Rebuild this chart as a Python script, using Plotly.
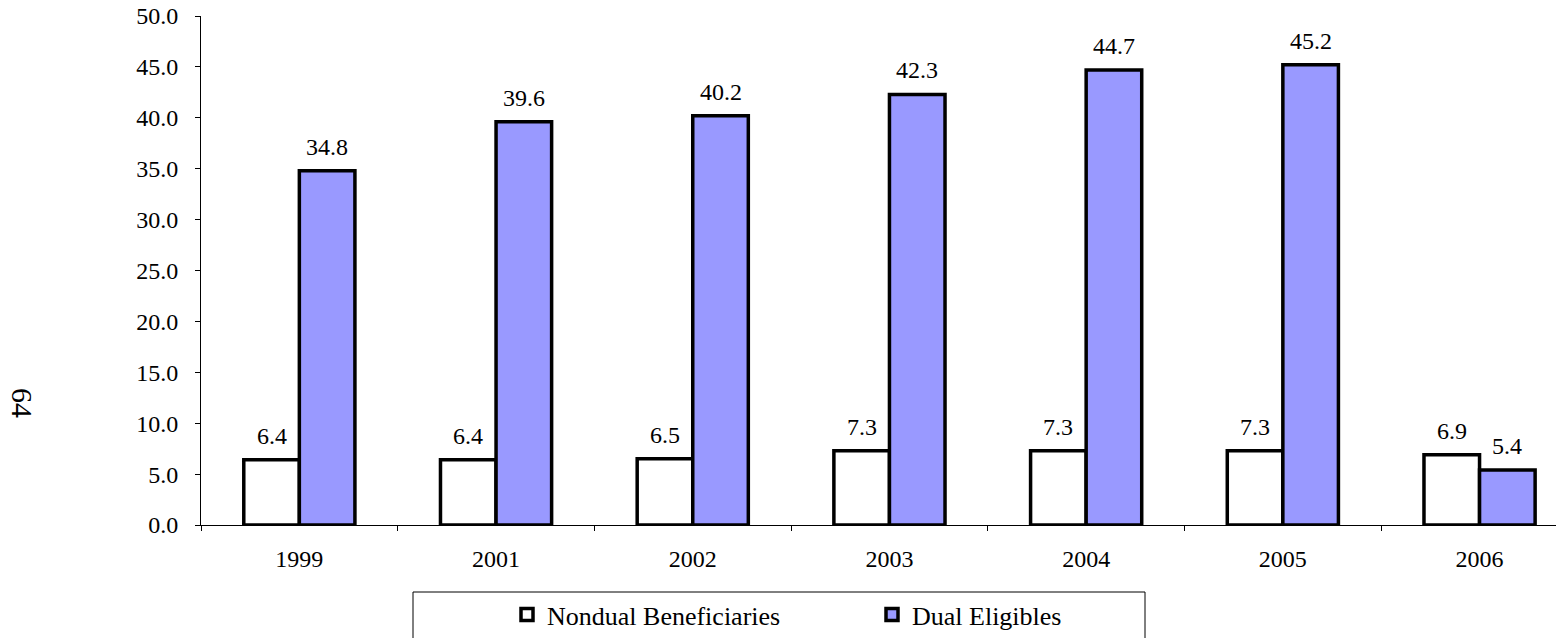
import plotly.graph_objects as go

years = ["1999", "2001", "2002", "2003", "2004", "2005", "2006"]
nondual = [6.4, 6.4, 6.5, 7.3, 7.3, 7.3, 6.9]
dual = [34.8, 39.6, 40.2, 42.3, 44.7, 45.2, 5.4]
series_names = ["Nondual Beneficiaries", "Dual Eligibles"]
y_ticks = [0, 5, 10, 15, 20, 25, 30, 35, 40, 45, 50]

FONT = "Liberation Serif"
# the page body adds an 8px margin; size the figure to fill the rest
OFF = 8
W, H = 1564 - OFF, 638 - OFF
L, R, T = 201 - OFF, 0, 16 - OFF
B = H - (525 - OFF)
plot_w = W - L - R
plot_h = H - T - B


def px_x(page_x):
    return (page_x - OFF - L) / plot_w


def px_y(page_y):
    return (H - B - (page_y - OFF)) / plot_h


fig = go.Figure()
fig.add_trace(go.Bar(
    x=years, y=nondual, name=series_names[0],
    marker=dict(color="white", line=dict(color="black", width=3.5)),
))
fig.add_trace(go.Bar(
    x=years, y=dual, name=series_names[1],
    marker=dict(color="#9999FF", line=dict(color="black", width=3.5)),
))

cat_w = 196.7
half = cat_w * 0.565 / 4
annotations = []
for i, yr in enumerate(years):
    for vals, sh in ((nondual, -half), (dual, half)):
        annotations.append(dict(
            x=i, y=vals[i], xref="x", yref="y", text=f"{vals[i]:.1f}",
            showarrow=False, xshift=sh, yanchor="middle", yshift=24,
            font=dict(family=FONT, size=24, color="black"),
        ))
annotations.append(dict(
    x=px_x(23), y=px_y(403), xref="paper", yref="paper",
    text="64", showarrow=False, textangle=90, xanchor="center", yanchor="middle",
    font=dict(family=FONT, size=30, color="black"),
))

fig.update_layout(
    width=W, height=H,
    margin=dict(l=L, r=R, t=T, b=B, pad=0, autoexpand=False),
    paper_bgcolor="white", plot_bgcolor="white",
    barmode="group", bargap=0.435, bargroupgap=0,
    font=dict(family=FONT, size=24, color="black"),
    showlegend=True,
    legend=dict(
        orientation="h", xref="container", yref="container",
        x=(507 - OFF) / W, y=1 - (591 - OFF) / H,
        xanchor="left", yanchor="top",
        font=dict(family=FONT, size=26, color="black"),
        bgcolor="rgba(0,0,0,0)", borderwidth=0,
        entrywidth=320, itemclick=False,
    ),
    annotations=annotations,
    shapes=[dict(
        type="rect", xref="paper", yref="paper",
        x0=px_x(413), x1=px_x(1145),
        y0=px_y(700), y1=px_y(592),
        line=dict(color="black", width=1), fillcolor="rgba(0,0,0,0)",
    )],
)
fig.update_xaxes(
    type="category", range=[-0.5, -0.5 + plot_w / cat_w], automargin=False,
    showline=True, linecolor="black", linewidth=1,
    ticks="outside", tickson="boundaries", ticklen=5, tickcolor="black",
    showgrid=False, ticklabelstandoff=12, ticklabeloverflow="allow",
    tickfont=dict(family=FONT, size=24, color="black"),
)
fig.update_yaxes(
    range=[0, 50], tickvals=y_ticks, tickformat=".1f", automargin=False,
    showline=True, linecolor="black", linewidth=1,
    ticks="outside", ticklen=5, tickcolor="black",
    showgrid=False, zeroline=False, ticklabelstandoff=12,
    ticklabeloverflow="allow",
    tickfont=dict(family=FONT, size=24, color="black"),
)

fig.write_html("out.html")
